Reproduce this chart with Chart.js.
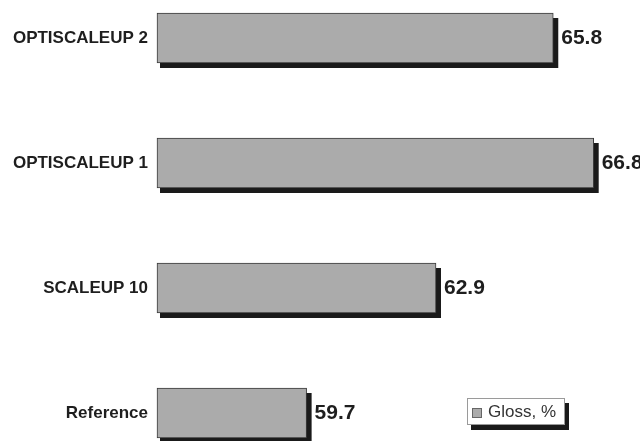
<!DOCTYPE html>
<html>
<head>
<meta charset="utf-8">
<script src="https://cdn.jsdelivr.net/npm/chart.js@4/dist/chart.umd.min.js"></script>
<style>
  html, body { margin: 0; padding: 0; background: #fff; }
  #wrap { width: 640px; height: 441px; }
</style>
</head>
<body>
<div id="wrap"><canvas id="gloss-bar"></canvas></div>
<script>
var categories = ["OPTISCALEUP 2", "OPTISCALEUP 1", "SCALEUP 10", "Reference"];
var glossValues = [65.8, 66.8, 62.9, 59.7];
var seriesLabel = "Gloss, %";
var axisMin = 56;
var axisMax = 67.5;
var barColor = "#ababab";
var fontFamily = "'Liberation Sans', Arial, sans-serif";

// black drop shadow behind each bar
var barShadow = {
  id: "barShadow",
  beforeDatasetsDraw: function (chart) {
    var ctx = chart.ctx;
    ctx.save();
    ctx.fillStyle = "#1a1a1a";
    chart.getDatasetMeta(0).data.forEach(function (bar) {
      var h = bar.height;
      ctx.fillRect(bar.base + 3, bar.y - h / 2 + 5, bar.x - bar.base + 2, h);
    });
    ctx.restore();
  }
};

// value at the end of every bar
var valueLabels = {
  id: "valueLabels",
  afterDatasetsDraw: function (chart) {
    var ctx = chart.ctx;
    ctx.save();
    ctx.font = "bold 21px " + fontFamily;
    ctx.fillStyle = "#1e1e1e";
    ctx.textBaseline = "middle";
    ctx.textAlign = "left";
    chart.getDatasetMeta(0).data.forEach(function (bar, i) {
      ctx.fillText(glossValues[i].toFixed(1), bar.x + 8, bar.y);
    });
    ctx.restore();
  }
};

// boxed legend in the lower right
var boxLegend = {
  id: "boxLegend",
  afterDraw: function (chart) {
    var ctx = chart.ctx;
    var x = 467, y = 398, w = 98, h = 27;
    ctx.save();
    ctx.fillStyle = "#1a1a1a";
    ctx.fillRect(x + 4, y + 5, w, h);
    ctx.fillStyle = "#fff";
    ctx.fillRect(x, y, w, h);
    ctx.strokeStyle = "#9a9a9a";
    ctx.lineWidth = 1;
    ctx.strokeRect(x + 0.5, y + 0.5, w - 1, h - 1);
    ctx.fillStyle = barColor;
    ctx.fillRect(x + 5, y + 10, 10, 10);
    ctx.strokeStyle = "#666";
    ctx.strokeRect(x + 5.5, y + 10.5, 9, 9);
    ctx.font = "17px " + fontFamily;
    ctx.fillStyle = "#333";
    ctx.textBaseline = "middle";
    ctx.fillText(chart.data.datasets[0].label, x + 21, y + h / 2 + 1);
    ctx.restore();
  }
};

new Chart("gloss-bar", {
  type: "bar",
  data: {
    labels: categories,
    datasets: [{
      label: seriesLabel,
      data: glossValues,
      base: axisMin,
      backgroundColor: barColor,
      borderColor: "#3a3a3a",
      borderWidth: 1,
      borderSkipped: false,
      barThickness: 50,
      clip: false
    }]
  },
  options: {
    indexAxis: "y",
    responsive: true,
    maintainAspectRatio: false,
    animation: false,
    layout: {
      padding: { left: 0, right: 18, top: 38, bottom: 28 }
    },
    plugins: {
      legend: { display: false },
      tooltip: { enabled: false }
    },
    scales: {
      x: {
        display: false,
        min: axisMin,
        max: axisMax
      },
      y: {
        offset: false,
        grid: { display: false, drawTicks: false },
        border: { display: false },
        ticks: {
          padding: 9,
          color: "#1e1e1e",
          font: { family: fontFamily, size: 17, weight: "bold" }
        },
        afterFit: function (scale) {
          scale.width = 157;
        }
      }
    }
  },
  plugins: [barShadow, valueLabels, boxLegend]
});
</script>
</body>
</html>
